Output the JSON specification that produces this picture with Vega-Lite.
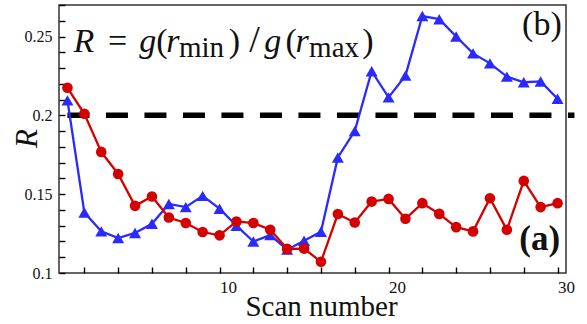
{
  "$schema": "https://vega.github.io/schema/vega-lite/v6.json",
  "width": 507,
  "height": 268,
  "autosize": {"type": "none"},
  "padding": {"left": 59, "top": 5, "right": 21, "bottom": 51},
  "background": "white",
  "config": {
    "view": {"stroke": "#333333", "strokeWidth": 1.5},
    "font": "Liberation Serif",
    "axis": {"ticks": true, "tickColor": "#000000", "tickWidth": 1.4, "tickSize": 6, "tickOpacity": 1, "zindex": 1}
  },
  "datasets": {
    "one": [{"id": 1}],
    "blue": [
      {"scan": 1, "R": 0.2095}, {"scan": 2, "R": 0.1384}, {"scan": 3, "R": 0.1264},
      {"scan": 4, "R": 0.1222}, {"scan": 5, "R": 0.1254}, {"scan": 6, "R": 0.1312},
      {"scan": 7, "R": 0.1438}, {"scan": 8, "R": 0.1418}, {"scan": 9, "R": 0.1489},
      {"scan": 10, "R": 0.1408}, {"scan": 11, "R": 0.130}, {"scan": 12, "R": 0.120},
      {"scan": 13, "R": 0.124}, {"scan": 14, "R": 0.1148}, {"scan": 15, "R": 0.1205},
      {"scan": 16, "R": 0.1262}, {"scan": 17, "R": 0.1733}, {"scan": 18, "R": 0.190},
      {"scan": 19, "R": 0.228}, {"scan": 20, "R": 0.2114}, {"scan": 21, "R": 0.2252},
      {"scan": 22, "R": 0.263}, {"scan": 23, "R": 0.261}, {"scan": 24, "R": 0.250},
      {"scan": 25, "R": 0.2393}, {"scan": 26, "R": 0.233}, {"scan": 27, "R": 0.2246},
      {"scan": 28, "R": 0.221}, {"scan": 29, "R": 0.2215}, {"scan": 30, "R": 0.2105}
    ],
    "red": [
      {"scan": 1, "R": 0.2175}, {"scan": 2, "R": 0.201}, {"scan": 3, "R": 0.1768},
      {"scan": 4, "R": 0.1628}, {"scan": 5, "R": 0.1426}, {"scan": 6, "R": 0.1485},
      {"scan": 7, "R": 0.1352}, {"scan": 8, "R": 0.1317}, {"scan": 9, "R": 0.126},
      {"scan": 10, "R": 0.1239}, {"scan": 11, "R": 0.1327}, {"scan": 12, "R": 0.1317},
      {"scan": 13, "R": 0.1274}, {"scan": 14, "R": 0.1153}, {"scan": 15, "R": 0.1155},
      {"scan": 16, "R": 0.1071}, {"scan": 17, "R": 0.1374}, {"scan": 18, "R": 0.132},
      {"scan": 19, "R": 0.1453}, {"scan": 20, "R": 0.147}, {"scan": 21, "R": 0.1344},
      {"scan": 22, "R": 0.1443}, {"scan": 23, "R": 0.1375}, {"scan": 24, "R": 0.1291},
      {"scan": 25, "R": 0.1264}, {"scan": 26, "R": 0.1474}, {"scan": 27, "R": 0.1274},
      {"scan": 28, "R": 0.1584}, {"scan": 29, "R": 0.1418}, {"scan": 30, "R": 0.1443}
    ]
  },
  "data": {"name": "one"},
  "encoding": {
    "x": {
      "type": "quantitative",
      "scale": {"domain": [0.5, 30.5], "nice": false, "zero": false},
      "axis": {
        "title": "Scan number",
        "titleFontSize": 29,
        "titleFontWeight": "normal",
        "titleColor": "#111111",
        "titleX": 262,
        "titleY": 48,
        "titleAlign": "center",
        "titleBaseline": "alphabetic",
        "values": [2, 4, 6, 8, 10, 12, 14, 16, 18, 20, 22, 24, 26, 28, 30],
        "labelExpr": "datum.value % 10 === 0 ? format(datum.value, 'd') : ''",
        "labelFontSize": 17,
        "labelColor": "#111111",
        "labelAlign": "left",
        "labelDx": -2,
        "labelPadding": 6,
        "labelFlush": false,
        "labelOverlap": false,
        "offset": -6,
        "domain": false,
        "grid": false
      }
    },
    "y": {
      "type": "quantitative",
      "scale": {"domain": [0.1, 0.27], "nice": false, "zero": false},
      "axis": {
        "title": "R",
        "titleFontSize": 31,
        "titleFontStyle": "italic",
        "titleFontWeight": "normal",
        "titleColor": "#111111",
        "titleAngle": -90,
        "titleX": -29,
        "titleY": 133,
        "titleAlign": "center",
        "titleBaseline": "alphabetic",
        "values": [0.1, 0.11, 0.12, 0.13, 0.14, 0.15, 0.16, 0.17, 0.18, 0.19, 0.2, 0.21, 0.22, 0.23, 0.24, 0.25, 0.26, 0.27],
        "labelExpr": "round(datum.value * 100) % 5 === 0 ? format(datum.value, '.2~f') : ''",
        "labelFontSize": 16,
        "labelColor": "#111111",
        "labelPadding": 7,
        "labelFlush": false,
        "labelOverlap": false,
        "offset": -6,
        "domain": false,
        "grid": false
      }
    }
  },
  "layer": [
    {
      "mark": {"type": "rule", "color": "black", "strokeWidth": 5.5, "strokeDash": [22, 16.5], "clip": false},
      "encoding": {
        "x": {"datum": 1},
        "x2": {"datum": 31},
        "y": {"datum": 0.2}
      }
    },
    {
      "data": {"name": "blue"},
      "mark": {"type": "line", "color": "#2a2aff", "strokeWidth": 2.3},
      "encoding": {"x": {"field": "scan"}, "y": {"field": "R"}}
    },
    {
      "data": {"name": "blue"},
      "mark": {"type": "point", "shape": "triangle-up", "filled": true, "opacity": 1, "color": "#2a2aff", "size": 144},
      "encoding": {"x": {"field": "scan"}, "y": {"field": "R"}}
    },
    {
      "data": {"name": "red"},
      "mark": {"type": "line", "color": "#d40000", "strokeWidth": 2.3},
      "encoding": {"x": {"field": "scan"}, "y": {"field": "R"}}
    },
    {
      "data": {"name": "red"},
      "mark": {"type": "point", "shape": "circle", "filled": true, "opacity": 1, "color": "#d40000", "size": 113},
      "encoding": {"x": {"field": "scan"}, "y": {"field": "R"}}
    },
    {
      "mark": {"type": "text", "text": "R", "fontStyle": "italic", "fontSize": 34, "align": "left", "baseline": "alphabetic", "color": "#111111"},
      "encoding": {"x": {"datum": 1.36}, "y": {"datum": 0.2404}}
    },
    {
      "mark": {"type": "text", "text": "=", "fontSize": 34, "align": "left", "baseline": "alphabetic", "color": "#111111"},
      "encoding": {"x": {"datum": 3.4}, "y": {"datum": 0.2404}}
    },
    {
      "mark": {"type": "text", "text": "g", "fontStyle": "italic", "fontSize": 34, "align": "left", "baseline": "alphabetic", "color": "#111111"},
      "encoding": {"x": {"datum": 5.25}, "y": {"datum": 0.2404}}
    },
    {
      "mark": {"type": "text", "text": "(", "fontSize": 34, "align": "left", "baseline": "alphabetic", "color": "#111111"},
      "encoding": {"x": {"datum": 6.25}, "y": {"datum": 0.2404}}
    },
    {
      "mark": {"type": "text", "text": "r", "fontStyle": "italic", "fontSize": 34, "align": "left", "baseline": "alphabetic", "color": "#111111"},
      "encoding": {"x": {"datum": 6.85}, "y": {"datum": 0.2404}}
    },
    {
      "mark": {"type": "text", "text": "min", "fontSize": 29, "align": "left", "baseline": "alphabetic", "color": "#111111"},
      "encoding": {"x": {"datum": 7.6}, "y": {"datum": 0.237}}
    },
    {
      "mark": {"type": "text", "text": ")", "fontSize": 34, "align": "left", "baseline": "alphabetic", "color": "#111111"},
      "encoding": {"x": {"datum": 10.55}, "y": {"datum": 0.2404}}
    },
    {
      "mark": {"type": "text", "text": "/", "fontSize": 38, "align": "left", "baseline": "alphabetic", "color": "#111111"},
      "encoding": {"x": {"datum": 11.75}, "y": {"datum": 0.2404}}
    },
    {
      "mark": {"type": "text", "text": "g", "fontStyle": "italic", "fontSize": 34, "align": "left", "baseline": "alphabetic", "color": "#111111"},
      "encoding": {"x": {"datum": 12.65}, "y": {"datum": 0.2404}}
    },
    {
      "mark": {"type": "text", "text": "(", "fontSize": 34, "align": "left", "baseline": "alphabetic", "color": "#111111"},
      "encoding": {"x": {"datum": 13.9}, "y": {"datum": 0.2404}}
    },
    {
      "mark": {"type": "text", "text": "r", "fontStyle": "italic", "fontSize": 34, "align": "left", "baseline": "alphabetic", "color": "#111111"},
      "encoding": {"x": {"datum": 14.5}, "y": {"datum": 0.2404}}
    },
    {
      "mark": {"type": "text", "text": "max", "fontSize": 29, "align": "left", "baseline": "alphabetic", "color": "#111111"},
      "encoding": {"x": {"datum": 15.3}, "y": {"datum": 0.237}}
    },
    {
      "mark": {"type": "text", "text": ")", "fontSize": 34, "align": "left", "baseline": "alphabetic", "color": "#111111"},
      "encoding": {"x": {"datum": 18.45}, "y": {"datum": 0.2404}}
    },
    {
      "mark": {"type": "text", "text": "(b)", "fontSize": 34, "align": "right", "baseline": "alphabetic", "color": "#111111"},
      "encoding": {"x": {"datum": 30.25}, "y": {"datum": 0.251}}
    },
    {
      "mark": {"type": "text", "text": "(a)", "fontSize": 35, "fontWeight": "bold", "align": "right", "baseline": "alphabetic", "color": "#111111"},
      "encoding": {"x": {"datum": 30.15}, "y": {"datum": 0.1146}}
    }
  ]
}
